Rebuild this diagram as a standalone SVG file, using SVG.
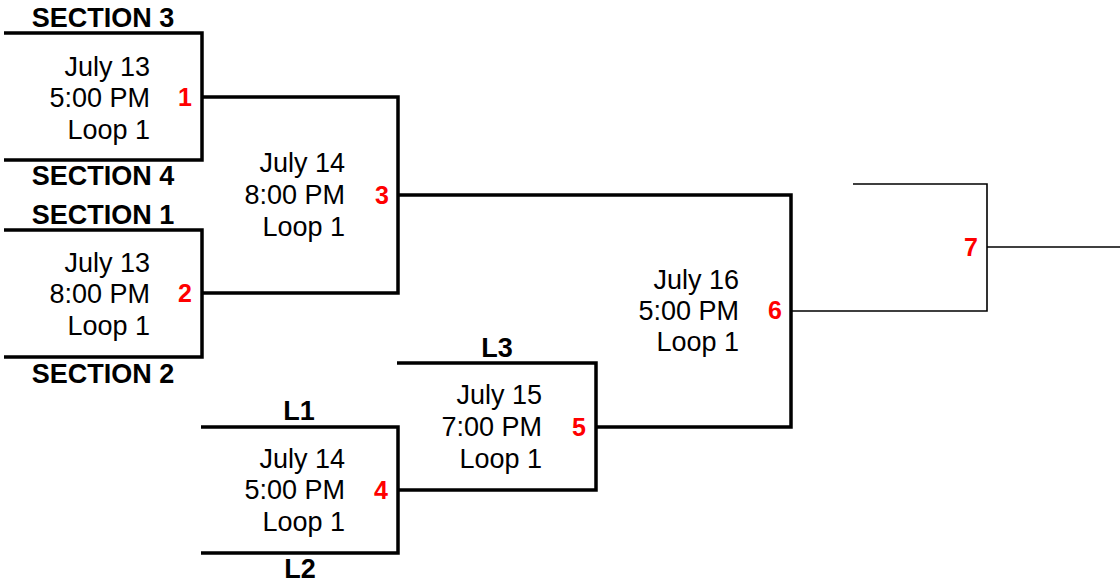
<svg xmlns="http://www.w3.org/2000/svg" width="1120" height="584" viewBox="0 0 1120 584">
<style>
.thick{fill:none;stroke:#000;stroke-width:3.5;stroke-linejoin:miter}
.thin{fill:none;stroke:#000;stroke-width:1.6}
.info{font-family:"Liberation Sans",Arial,sans-serif;font-size:27px;fill:#000;text-anchor:end}
.lbl{font-family:"Liberation Sans",Arial,sans-serif;font-size:27px;font-weight:bold;fill:#000;text-anchor:middle}
.num{font-family:"Liberation Sans",Arial,sans-serif;font-size:25px;font-weight:bold;fill:#ff0000;text-anchor:middle}
</style>
<rect width="1120" height="584" fill="#fff"/>
<g id="connectors">
<path class="thick" d="M4,33 H202 V160 H4"/>
<path class="thick" d="M4,230 H202 V357 H4"/>
<path class="thick" d="M202,97 H398 V293 H202"/>
<path class="thick" d="M201,427 H398 V553 H201"/>
<path class="thick" d="M397,363 H596 V490 H398"/>
<path class="thick" d="M398,195 H791 V427 H596"/>
<path class="thin" d="M791,311 H987 V184 H853"/>
<path class="thin" d="M987,247 H1120"/>
</g>
<g id="labels">
<text class="lbl" x="103" y="27">SECTION 3</text>
<text class="lbl" x="103" y="185">SECTION 4</text>
<text class="lbl" x="103" y="224">SECTION 1</text>
<text class="lbl" x="103" y="383">SECTION 2</text>
<text class="lbl" x="299" y="420">L1</text>
<text class="lbl" x="300" y="578">L2</text>
<text class="lbl" x="497" y="357">L3</text>
</g>
<g id="game1">
<text class="info" x="150" y="76">July 13</text>
<text class="info" x="150" y="107">5:00 PM</text>
<text class="info" x="150" y="139">Loop 1</text>
<text class="num" x="185" y="106">1</text>
</g>
<g id="game2">
<text class="info" x="150" y="272">July 13</text>
<text class="info" x="150" y="303">8:00 PM</text>
<text class="info" x="150" y="335">Loop 1</text>
<text class="num" x="185" y="302">2</text>
</g>
<g id="game3">
<text class="info" x="345" y="172">July 14</text>
<text class="info" x="345" y="204">8:00 PM</text>
<text class="info" x="345" y="236">Loop 1</text>
<text class="num" x="382" y="204">3</text>
</g>
<g id="game4">
<text class="info" x="345" y="468">July 14</text>
<text class="info" x="345" y="499">5:00 PM</text>
<text class="info" x="345" y="531">Loop 1</text>
<text class="num" x="381" y="499">4</text>
</g>
<g id="game5">
<text class="info" x="542" y="404">July 15</text>
<text class="info" x="542" y="436">7:00 PM</text>
<text class="info" x="542" y="468">Loop 1</text>
<text class="num" x="579" y="436">5</text>
</g>
<g id="game6">
<text class="info" x="739" y="289">July 16</text>
<text class="info" x="739" y="320">5:00 PM</text>
<text class="info" x="739" y="351">Loop 1</text>
<text class="num" x="775" y="319">6</text>
</g>
<g id="game7">
<text class="num" x="971" y="256">7</text>
</g>
</svg>
